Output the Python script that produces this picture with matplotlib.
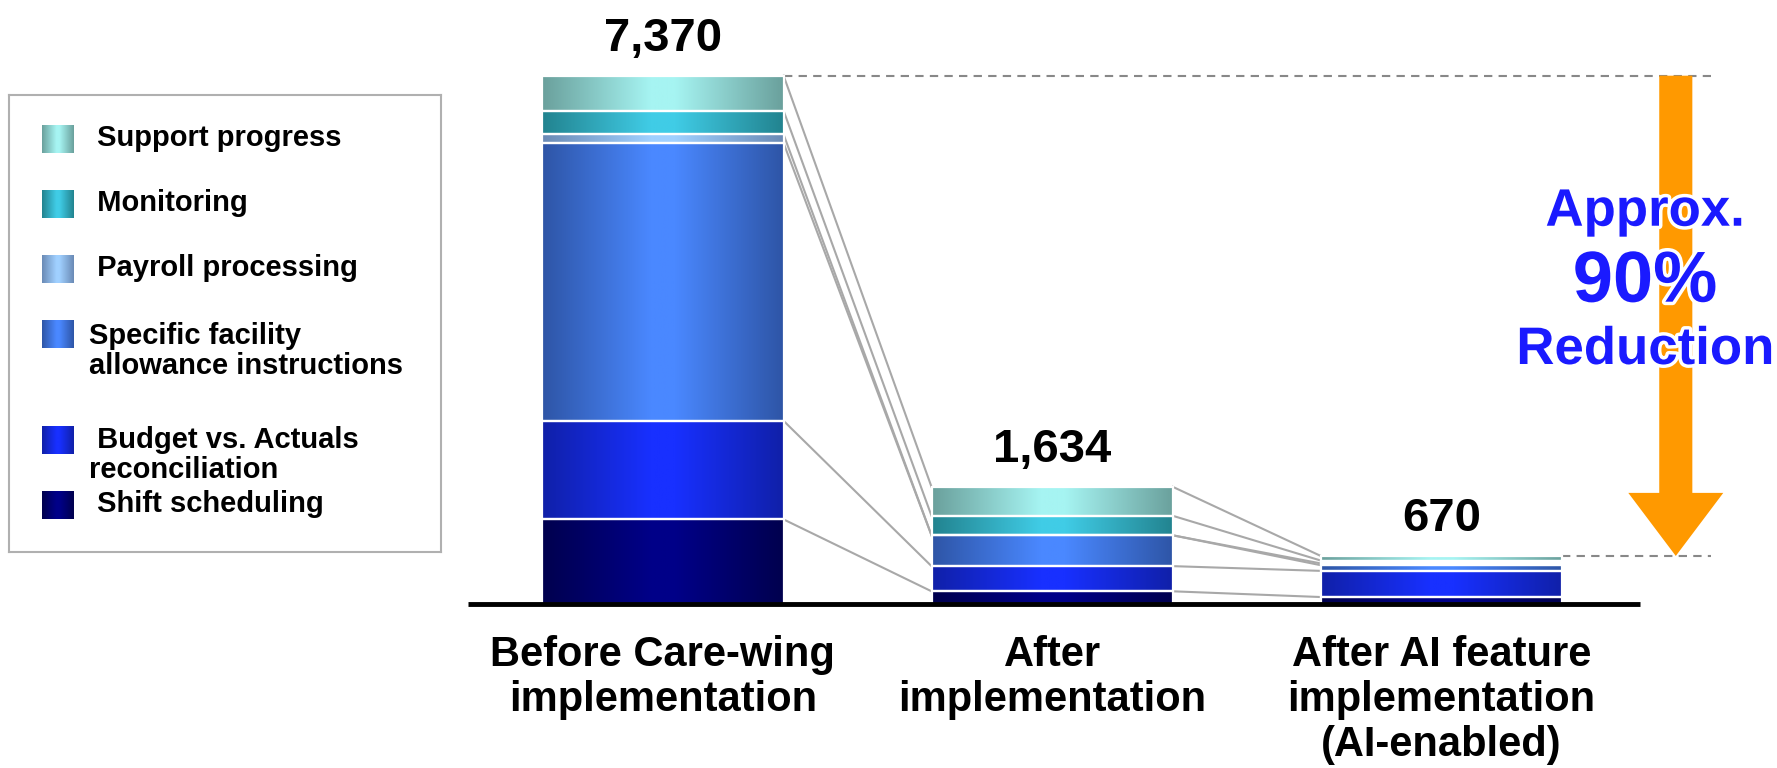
import numpy as np
from matplotlib import pyplot as plt
from matplotlib.colors import LinearSegmentedColormap
import matplotlib.patheffects as pe

#  -------------------------------------------  data  ------------------------------------------  #

categories = ["Before Care-wing\nimplementation", "After\nimplementation",
              "After AI feature\nimplementation\n(AI-enabled)"]
totals = [7370, 1634, 670]

# stacked bottom -> top
series = ["Shift scheduling", "Budget vs. Actuals reconciliation",
          "Specific facility allowance instructions", "Payroll processing",
          "Monitoring", "Support progress"]
shift = [1180, 177, 97]
budget = [1375, 351, 365]
specific = [3875, 430, 79]
payroll = [120, 0, 25]
monitoring = [330, 272, 40]
support = [490, 404, 64]

legend_labels = [" Support progress", " Monitoring", " Payroll processing",
                 "Specific facility\nallowance instructions",
                 " Budget vs. Actuals\nreconciliation", " Shift scheduling"]

# (edge, centre) colours of the horizontal gradients
grads = {
    "Shift scheduling": ("#00004e", "#000088"),
    "Budget vs. Actuals reconciliation": ("#1020a8", "#1830ff"),
    "Specific facility allowance instructions": ("#2e55a6", "#4a88ff"),
    "Payroll processing": ("#6a8ab5", "#a0d0ff"),
    "Monitoring": ("#22838f", "#40cce6"),
    "Support progress": ("#6aa09c", "#a6f4f2"),
}

reduction = ["Approx.", "90%", "Reduction"]

#  -------------------------------------------  plot  ------------------------------------------  #

plt.rcParams["font.family"] = ["Liberation Sans", "DejaVu Sans"]
plt.rcParams["font.weight"] = "bold"

fig = plt.figure(figsize=(17.77, 7.68), dpi=100)
ax = fig.add_axes([0, 0, 1, 1])
ax.axis("off")

def cmap_for(name):
    e, c = grads[name]
    return LinearSegmentedColormap.from_list(name, [(0, e), (0.45, c), (0.55, c), (1, e)])

grad = np.linspace(0, 1, 256).reshape(1, -1)
x = np.arange(len(categories))
w = 0.62
values = [shift, budget, specific, payroll, monitoring, support]

bottom = np.zeros(len(categories))
tops = []
for name, vals in zip(series, values):
    bars = ax.bar(x, vals, w, bottom=bottom, facecolor="none", edgecolor="white", lw=1.6, zorder=3)
    for b in bars:
        if b.get_height() <= 0:
            continue
        x0, y0 = b.get_x(), b.get_y()
        ax.imshow(grad, cmap=cmap_for(name), aspect="auto", zorder=2,
                  extent=(x0, x0 + b.get_width(), y0, y0 + b.get_height()))
    bottom = bottom + np.array(vals)
    tops.append(bottom.copy())

# connector lines between segment tops
for t in tops:
    for i in range(len(categories) - 1):
        ax.plot([x[i] + w / 2, x[i + 1] - w / 2], [t[i], t[i + 1]], color="#a8a8a8", lw=1.5, zorder=1)

# baseline
ax.hlines(0, -0.501, 2.51, color="black", lw=3.5, zorder=4)

# totals
for i, t in enumerate(totals):
    ax.annotate(f"{t:,}", (x[i], t), xytext=(0, 18), textcoords="offset points",
                ha="center", va="baseline", fontsize=34, fontweight="bold")

# category labels
for i, c in enumerate(categories):
    ax.text(x[i], -430, c, ha="center", va="top", fontsize=30, fontweight="bold", linespacing=1.17)

# reference dashes and the reduction arrow
ax_x = 2.602
ax.hlines(totals[0], x[0] + w / 2, 2.692, color="#888888", lw=1.5, linestyles=(0, (4, 3)), zorder=1)
ax.hlines(totals[-1], x[-1] + w / 2, 2.692, color="#888888", lw=1.5, linestyles=(0, (4, 3)), zorder=1)
ax.arrow(ax_x, totals[0], 0, totals[-1] - totals[0], width=0.085, head_width=0.244,
         head_length=880, length_includes_head=True, color="#ff9900", lw=0, zorder=5)

glow = [pe.withStroke(linewidth=5, foreground="white")]
for s, y, fs in zip(reduction, [5277, 4217, 3348], [38, 52, 38]):
    ax.text(2.523, y, s, ha="center", va="baseline", fontsize=fs, fontweight="bold",
            color="#1a1aff", path_effects=glow, zorder=6)

ax.set_xlim(-1.703, 2.862)
ax.set_ylim(-2288, 8426)

#  -------------------------------------------  legend  ------------------------------------------  #

lg = fig.add_axes([9 / 1777, 1 - 552 / 768, 432 / 1777, 457 / 768])
lg.set_xticks([])
lg.set_yticks([])
for sp in lg.spines.values():
    sp.set_color("#b0b0b0")
    sp.set_linewidth(1.5)

rows = [44, 109, 174, 239, 345, 410]
text_rows = [43, 108, 173, 256, 360, 409]
for name, lab, ry, ty in zip(series[::-1], legend_labels, rows, text_rows):
    lg.imshow(grad, cmap=cmap_for(name), aspect="auto", extent=(33, 65, ry + 14, ry - 14))
    lg.text(80, ty, lab, ha="left", va="center", fontsize=21, fontweight="bold", linespacing=1.12)
lg.set_xlim(0, 432)
lg.set_ylim(457, 0)

plt.savefig("out.png", dpi=100)
